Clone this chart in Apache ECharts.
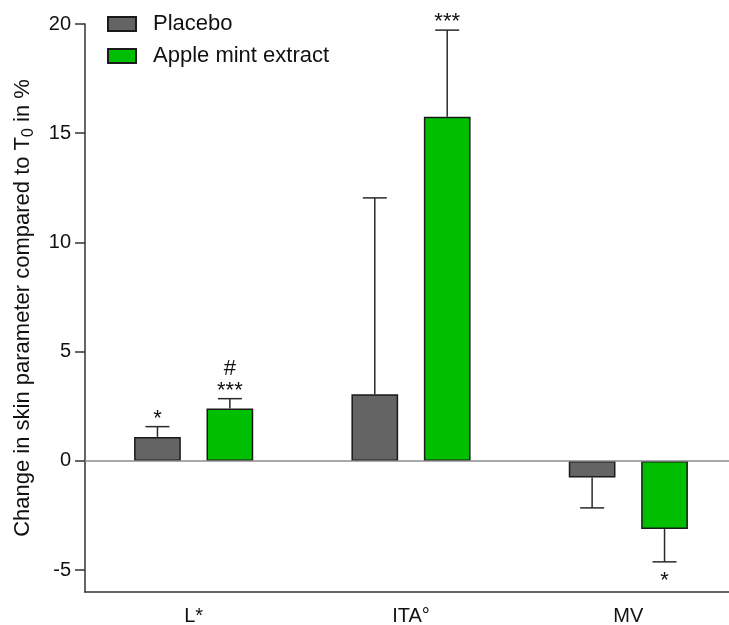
<!DOCTYPE html>
<html><head><meta charset="utf-8">
<script src="https://cdn.jsdelivr.net/npm/echarts@6/dist/echarts.min.js"></script>
<style>html,body{margin:0;padding:0;background:#fff}#c{width:729px;height:625px}</style>
</head><body><div id="c"></div>
<script>
const categories = ['L*', 'ITA°', 'MV'];
const seriesNames = ['Placebo', 'Apple mint extract'];
const placeboValues = [1.10, 3.05, -0.76];
const placeboErrors = [0.47, 8.99, -1.39];   // signed: direction of the one-sided error bar
const mintValues = [2.40, 15.76, -3.12];
const mintErrors = [0.45, 3.96, -1.50];
const placeboMarks = ['*', '', ''];
const mintMarks = ['#\n***', '***', '*'];
const yTicks = [-5, 0, 5, 10, 15, 20];

const FONT = 'Liberation Sans, Arial, sans-serif';
const chart = echarts.init(document.getElementById('c'));

function errSeries(values, errors, marks, side) {
  return {
    type: 'custom',
    z: 5,
    silent: true,
    data: categories.map((c, i) => [i, values[i], errors[i]]),
    renderItem: function (params, api) {
      const i = api.value(0), v = api.value(1), e = api.value(2);
      const bw = api.size([1, 0])[0];
      const off = side * bw * 0.1666;
      const p0 = api.coord([i, v]);
      const p1 = api.coord([i, v + e]);
      const x = p0[0] + off;
      const cap = 12;
      const children = [
        { type: 'line', shape: { x1: x, y1: p0[1], x2: x, y2: p1[1] }, style: { stroke: '#2a2a2a', lineWidth: 1.5 } },
        { type: 'line', shape: { x1: x - cap, y1: p1[1], x2: x + cap, y2: p1[1] }, style: { stroke: '#2a2a2a', lineWidth: 1.5 } }
      ];
      const m = marks[params.dataIndex];
      if (m) {
        const up = e >= 0;
        children.push({
          type: 'text',
          style: {
            x: x, y: up ? p1[1] + 3 : p1[1] + 8,
            text: m, align: 'center', verticalAlign: up ? 'bottom' : 'top',
            font: '22px ' + FONT, lineHeight: 22, fill: '#111'
          }
        });
      }
      return { type: 'group', children: children };
    }
  };
}

const axisLineStyle = { color: '#333', width: 1.5 };

chart.setOption({
  animation: false,
  grid: { left: 85, top: 24, width: 652, height: 568, containLabel: false, outerBoundsMode: 'none' },
  legend: {
    data: seriesNames,
    orient: 'vertical', left: 107, top: 13, padding: 0,
    itemWidth: 28, itemHeight: 14, itemGap: 10, icon: 'rect',
    textStyle: { fontSize: 22, color: '#111', fontFamily: FONT, padding: [0, 0, 0, 12] }
  },
  xAxis: {
    type: 'category', data: categories,
    axisLine: { onZero: false, lineStyle: axisLineStyle },
    axisTick: { alignWithLabel: true, length: 10, lineStyle: axisLineStyle },
    axisLabel: { fontSize: 20, color: '#111', fontFamily: FONT, margin: 14 }
  },
  yAxis: {
    type: 'value', min: -6, max: 20,
    splitLine: { show: false },
    axisLine: { show: true, onZero: false, lineStyle: axisLineStyle },
    axisTick: { show: true, length: 10, lineStyle: axisLineStyle, customValues: yTicks },
    axisLabel: { fontSize: 20, color: '#111', fontFamily: FONT, margin: 14, customValues: yTicks },
    name: 'Change in skin parameter compared to T{sub|0} in %',
    nameLocation: 'middle', nameRotate: 90, nameGap: 48,
    nameTextStyle: {
      fontSize: 22, color: '#111', fontFamily: FONT,
      rich: { sub: { fontSize: 16, color: '#111', fontFamily: FONT, padding: [12, 0, 0, 0] } }
    }
  },
  series: [
    {
      name: seriesNames[0], type: 'bar', data: placeboValues,
      barWidth: '21.5%', barGap: '55%',
      itemStyle: { color: '#646464', borderColor: '#1a1a1a', borderWidth: 1.5 },
      markLine: {
        silent: true, symbol: 'none', label: { show: false },
        lineStyle: { color: '#8c8c8c', width: 1.5, type: 'solid' },
        data: [{ yAxis: 0 }]
      }
    },
    {
      name: seriesNames[1], type: 'bar', data: mintValues,
      barWidth: '21.5%', barGap: '55%',
      itemStyle: { color: '#00BF00', borderColor: '#1a1a1a', borderWidth: 1.5 }
    },
    errSeries(placeboValues, placeboErrors, placeboMarks, -1),
    errSeries(mintValues, mintErrors, mintMarks, 1)
  ]
});
</script></body></html>
